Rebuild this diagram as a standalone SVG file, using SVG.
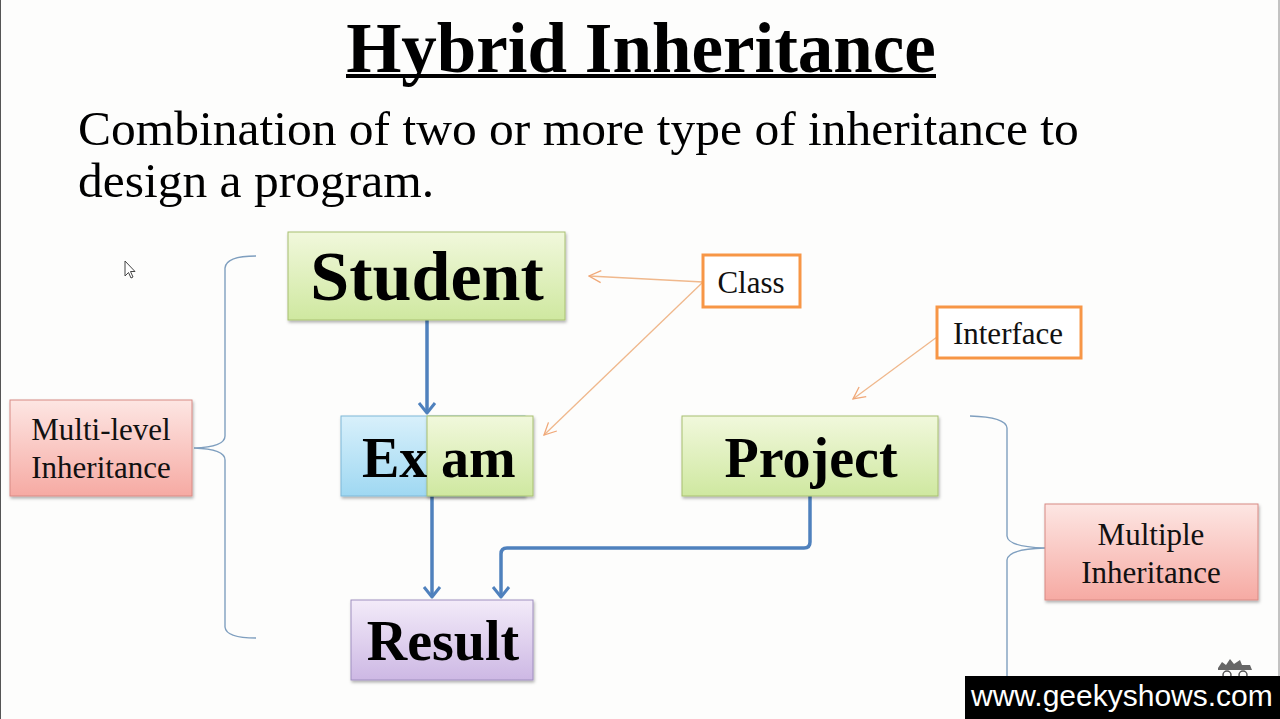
<svg xmlns="http://www.w3.org/2000/svg" width="1280" height="719" viewBox="0 0 1280 719">
<defs>
<linearGradient id="gGreen" x1="0" y1="0" x2="0" y2="1"><stop offset="0" stop-color="#f1f8dc"/><stop offset="1" stop-color="#cfe8a0"/></linearGradient>
<linearGradient id="gBlue" x1="0" y1="0" x2="0" y2="1"><stop offset="0" stop-color="#d8f0fb"/><stop offset="1" stop-color="#9fd8f2"/></linearGradient>
<linearGradient id="gPurple" x1="0" y1="0" x2="0" y2="1"><stop offset="0" stop-color="#f3ebf9"/><stop offset="1" stop-color="#cdb8e4"/></linearGradient>
<linearGradient id="gPink" x1="0" y1="0" x2="0" y2="1"><stop offset="0" stop-color="#fde6e3"/><stop offset="1" stop-color="#f6aaa3"/></linearGradient>
<filter id="sh" x="-10%" y="-10%" width="130%" height="140%"><feDropShadow dx="1" dy="2" stdDeviation="1.5" flood-color="#000" flood-opacity="0.3"/></filter>
<marker id="blueHead" viewBox="0 0 20 20" refX="18" refY="10" markerWidth="20" markerHeight="20" markerUnits="userSpaceOnUse" orient="auto">
<path d="M8 2 L18 10 L8 18" fill="none" stroke="#4f81bd" stroke-width="3" stroke-linejoin="round"/>
</marker>
<marker id="orHead" viewBox="0 0 16 16" refX="15" refY="8" markerWidth="16" markerHeight="16" markerUnits="userSpaceOnUse" orient="auto">
<path d="M3 2 L15 8 L3 14" fill="none" stroke="#f0a878" stroke-width="1.3"/>
</marker>
</defs>
<style>
.serif{font-family:"Liberation Serif","Times New Roman",serif;fill:#000}
.big{font-weight:bold;text-anchor:middle}
.lbl{font-size:31px;text-anchor:middle;fill:#111}
.box{stroke:#a8c070;stroke-width:1;filter:url(#sh)}
.tag{fill:#fff;stroke:#f79646;stroke-width:3}
.pink{fill:url(#gPink);stroke:#d88a84;stroke-width:1;filter:url(#sh)}
.conn{fill:none;stroke:#4f81bd;stroke-width:3.5}
.ann{fill:none;stroke:#f0b88c;stroke-width:1.3}
.brace{fill:none;stroke:#7f9fbf;stroke-width:1.4}
</style>
<rect width="1280" height="719" fill="#fdfdfc"/>
<line x1="0.5" y1="0" x2="0.5" y2="719" stroke="#555" stroke-width="1"/>
<line x1="1279" y1="0" x2="1279" y2="719" stroke="#888" stroke-width="1"/>

<g id="title">
<text x="641" y="72" class="serif big" font-size="71">Hybrid Inheritance</text>
<rect x="346" y="74" width="590" height="4" fill="#000"/>
</g>
<g id="description">
<text x="78" y="145" class="serif" font-size="49.5">Combination of two or more type of inheritance to</text>
<text x="78" y="197" class="serif" font-size="49.5">design a program.</text>
</g>

<g id="braces">
<path class="brace" d="M256 256 Q226 256 225 268 L225 436 Q225 447 194 448 Q225 449 225 460 L225 627 Q226 638 256 638"/>
<path class="brace" d="M970 416 Q1006 417 1007 428 L1007 536 Q1008 547 1045 548 Q1008 549 1007 560 L1007 676"/>
</g>

<g id="connectors">
<line class="conn" x1="427" y1="320" x2="427" y2="413" marker-end="url(#blueHead)"/>
<line class="conn" x1="432" y1="496" x2="432" y2="597" marker-end="url(#blueHead)"/>
<path class="conn" d="M810 496 L810 542 Q810 548 804 548 L507 548 Q501 548 501 554 L501 597" marker-end="url(#blueHead)"/>
<line class="ann" x1="703" y1="282" x2="589" y2="276" marker-end="url(#orHead)"/>
<line class="ann" x1="703" y1="282" x2="544" y2="435" marker-end="url(#orHead)"/>
<line class="ann" x1="937" y1="337" x2="853" y2="399" marker-end="url(#orHead)"/>
</g>

<g id="student">
<rect x="288" y="232" width="277" height="88" fill="url(#gGreen)" class="box"/>
<text x="427" y="300" class="serif big" font-size="70">Student</text>
</g>
<g id="exam">
<rect x="341" y="416" width="184" height="80" fill="url(#gBlue)" stroke="#7fb8d8" stroke-width="1" filter="url(#sh)"/>
<rect x="427" y="416" width="106" height="80" fill="url(#gGreen)" class="box"/>
<text x="362" y="477" class="serif" font-weight="bold" font-size="56">Ex</text>
<text x="441" y="477" class="serif" font-weight="bold" font-size="56">am</text>
</g>
<g id="project">
<rect x="682" y="416" width="256" height="80" fill="url(#gGreen)" class="box"/>
<text x="811" y="477" class="serif big" font-size="56">Project</text>
</g>
<g id="result">
<rect x="351" y="600" width="182" height="80" fill="url(#gPurple)" stroke="#9f8fbf" stroke-width="1" filter="url(#sh)"/>
<text x="443" y="660" class="serif big" font-size="56">Result</text>
</g>
<g id="class-tag">
<rect x="703" y="255" width="97" height="52" class="tag"/>
<text x="751" y="293" class="serif lbl">Class</text>
</g>
<g id="interface-tag">
<rect x="937" y="307" width="144" height="51" class="tag"/>
<text x="1008" y="344" class="serif lbl">Interface</text>
</g>
<g id="multilevel">
<rect x="10" y="400" width="182" height="96" class="pink"/>
<text x="101" y="440" class="serif lbl">Multi-level</text>
<text x="101" y="478" class="serif lbl">Inheritance</text>
</g>
<g id="multiple">
<rect x="1045" y="504" width="213" height="96" class="pink"/>
<text x="1151" y="545" class="serif lbl">Multiple</text>
<text x="1151" y="583" class="serif lbl">Inheritance</text>
</g>

<g id="cursor">
<path d="M125 261 L125 276 L128.5 272.5 L131 278 L133 277 L130.5 271.5 L135 271.5 Z" fill="#fff" stroke="#444" stroke-width="1"/>
</g>

<g id="watermark">
<path d="M1218 668 L1222 662 L1226 665 L1230 659 L1234 664 L1240 660 L1242 665 L1250 665 L1252 670 L1218 670 Z" fill="#666"/>
<circle cx="1227" cy="675" r="4" fill="none" stroke="#555" stroke-width="1.5"/>
<circle cx="1243" cy="675" r="4" fill="none" stroke="#555" stroke-width="1.5"/>
<rect x="965" y="676" width="315" height="43" fill="#000"/>
<text x="971" y="706" font-family="Liberation Sans, Arial, sans-serif" font-size="30" fill="#fff">www.geekyshows.com</text>
</g>
</svg>
